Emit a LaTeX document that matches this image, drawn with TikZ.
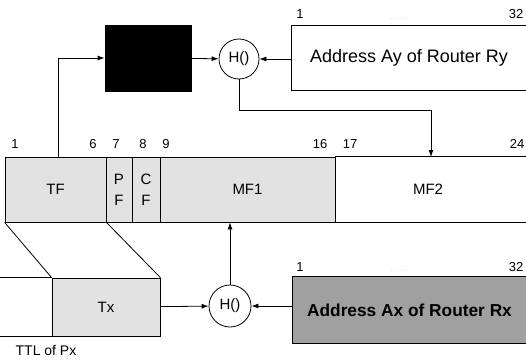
\documentclass[tikz,border=0pt]{standalone}
\usepackage{fontspec}
\setmainfont{Liberation Sans}
\usetikzlibrary{arrows.meta, positioning, calc}
\definecolor{fieldgray}{RGB}{226,226,226}
\definecolor{addrgray}{RGB}{160,160,160}

\begin{document}
\begin{tikzpicture}[x=1pt, y=-1pt, thick, >={Latex[length=7pt,width=5pt]},
    field/.style={draw, fill=fieldgray, minimum height=65pt, inner sep=0pt, font=\fontsize{15}{21}\selectfont, align=center},
    hashbox/.style={draw, circle, minimum size=40pt, inner sep=0pt, fill=white, font=\fontsize{15}{18}\selectfont},
    bitnum/.style={font=\fontsize{13}{15}\selectfont, inner sep=1pt},
    dots/.style={font=\tiny, text=gray}]
    \useasboundingbox (0,0) rectangle (526,361);

    % Packet header fields
    \node[field, minimum width=101pt] (tf) at (55.5,189.5) {TF};
    \node[field, minimum width=26pt] (pf) at (119,189.5) {P\\F};
    \node[field, minimum width=28pt] (cf) at (146,189.5) {C\\F};
    \node[field, minimum width=175pt] (mf1) at (247.5,189.5) {MF1};
    \node[font=\fontsize{15}{18}\selectfont] (mf2) at (428,189.5) {MF2};
    \coordinate (mfend) at (526,157);
    \draw (mf1.north east) -- (mf1.north east -| mfend);
    \draw (mf1.south east) -- ++(191,0);

    % Bit positions
    \node[bitnum] (b1) at (15,144) {1};
    \node[bitnum] (b6) at (93,144) {6};
    \node[bitnum] (b7) at (116,144) {7};
    \node[bitnum] (b8) at (143,144) {8};
    \node[bitnum] (b9) at (166,144) {9};
    \node[bitnum] (b16) at (320,144) {16};
    \node[bitnum] (b17) at (350,144) {17};
    \node[bitnum] (b24) at (517,144) {24};

    % TTL of Px
    \node[field, minimum width=108pt, minimum height=58pt] (tx) at (106,307) {Tx};
    \draw (tx.north west) -- ++(-52,0);
    \draw (tx.south west) -- ++(-52,0);
    \node[font=\fontsize{14}{16}\selectfont] (ttl) at (46,350) {TTL of Px};
    \draw (tf.south west) -- (tx.north west);
    \draw (tf.south east) -- (tx.north east);

    % Upper hash path
    \node[draw, fill=black, minimum width=86pt, minimum height=66pt] (blk) at (148,58) {};
    \node[hashbox] (hy) at (239,59) {H()};
    \node[fill=white, minimum width=234pt, minimum height=64pt, font=\fontsize{18}{20}\selectfont] (ay) at (409,58) {Address Ay of Router Ry};
    \draw (ay.north east) -- (ay.north west) -- (ay.south west) -- (ay.south east);
    \node[bitnum] (ay1) at (300,14) {1};
    \node[bitnum] (ay32) at (516,14) {32};
    \node[dots] (aydots) at (400,19) {. . . . . .};
    \draw[->] (tf.north -| 58,0) |- (blk.west);
    \draw[->] (blk) -- (hy);
    \draw[->] (ay.west |- hy) -- (hy);
    \coordinate (mfin) at (431,157);
    \draw[->] (hy.south) -- ++(0,31) -| (mfin);

    % Lower hash path
    \node[hashbox, minimum size=42pt] (hx) at (230,306) {H()};
    \node[fill=addrgray, minimum width=233pt, minimum height=66pt, font=\fontsize{17.3}{20}\selectfont\bfseries] (ax) at (409.5,310) {Address Ax of Router Rx};
    \draw (ax.north east) -- (ax.north west) -- (ax.south west) -- (ax.south east);
    \node[bitnum] (ax1) at (300,267) {1};
    \node[bitnum] (ax32) at (516,267) {32};
    \node[dots] (axdots) at (400,271) {. . . . . .};
    \draw[->] (tx) -- (hx);
    \draw[->] (ax.west |- hx) -- (hx);
    \draw[->] (hx.north) -- (hx.north |- mf1.south);
\end{tikzpicture}
\end{document}
